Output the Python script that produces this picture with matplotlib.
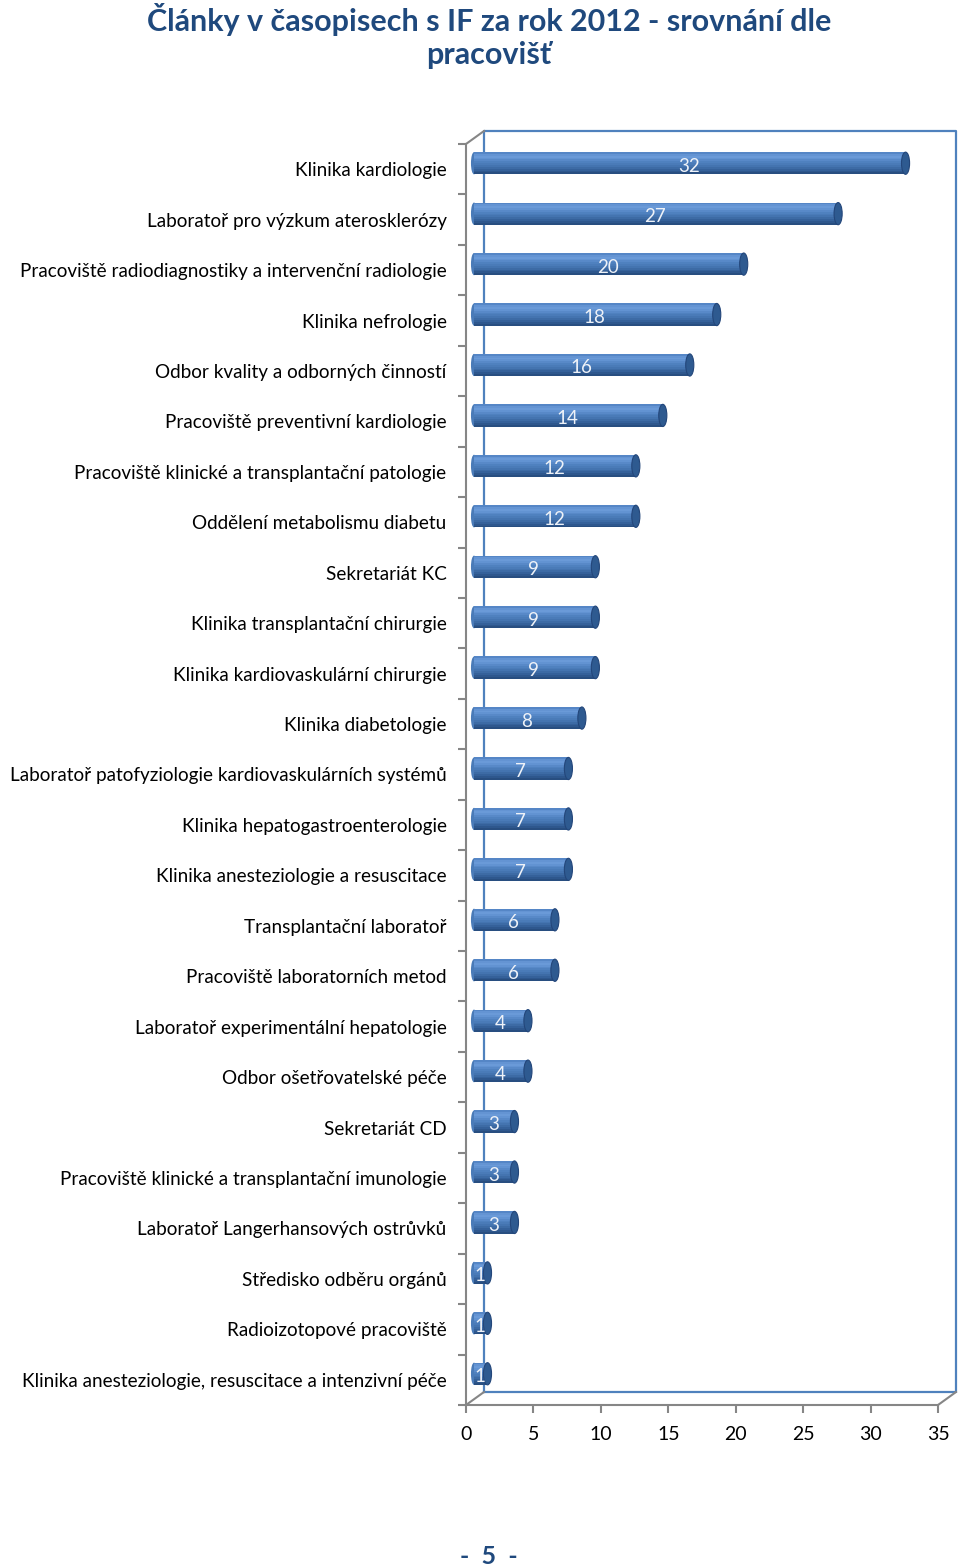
import matplotlib.pyplot as plt
from matplotlib.patches import Ellipse
from matplotlib.transforms import ScaledTranslation
from matplotlib.lines import Line2D

plt.rcParams['font.family'] = ['Lato', 'DejaVu Sans']

categories = [
    "Klinika kardiologie",
    "Laboratoř pro výzkum aterosklerózy",
    "Pracoviště radiodiagnostiky a intervenční radiologie",
    "Klinika nefrologie",
    "Odbor kvality a odborných činností",
    "Pracoviště preventivní kardiologie",
    "Pracoviště klinické a transplantační patologie",
    "Oddělení metabolismu diabetu",
    "Sekretariát KC",
    "Klinika transplantační chirurgie",
    "Klinika kardiovaskulární chirurgie",
    "Klinika diabetologie",
    "Laboratoř patofyziologie kardiovaskulárních systémů",
    "Klinika hepatogastroenterologie",
    "Klinika anesteziologie a resuscitace",
    "Transplantační laboratoř",
    "Pracoviště laboratorních metod",
    "Laboratoř experimentální hepatologie",
    "Odbor ošetřovatelské péče",
    "Sekretariát CD",
    "Pracoviště klinické a transplantační imunologie",
    "Laboratoř Langerhansových ostrůvků",
    "Středisko odběru orgánů",
    "Radioizotopové pracoviště",
    "Klinika anesteziologie, resuscitace a intenzivní péče",
]
values = [32, 27, 20, 18, 16, 14, 12, 12, 9, 9, 9, 8, 7, 7, 7, 6, 6, 4, 4, 3, 3, 3, 1, 1, 1]
xticks = [0, 5, 10, 15, 20, 25, 30, 35]

title_col = '#1F497D'
axis_col = '#868686'
wall_col = '#4F81BD'
# cylinder shading, top to bottom
shade = ['#5586C6', '#6494D3', '#6A9AD8', '#6293D2', '#5889C8', '#4F81BF',
         '#4A7BB8', '#4474B0', '#3D6BA5', '#35619A', '#2E578D', '#284E80']

fig = plt.figure(figsize=(9.6, 15.67), dpi=100)
ax = fig.add_axes([466/960, 1 - 1405/1567, (938-466)/960, (1405-144)/1567])
n = len(categories)
ypos = list(range(n))
ax.set_xlim(0, 35)
ax.set_ylim(n - 0.5, -0.5)

# back wall (offset into depth)
back = ax.transAxes + ScaledTranslation(18/100, 13/100, fig.dpi_scale_trans)
ax.add_line(Line2D([0, 1, 1, 0, 0], [0, 0, 1, 1, 0], transform=back, color=wall_col, lw=1.6, clip_on=False))
# depth edges
for (x0, y0) in [(0, 0), (0, 1), (1, 0)]:
    pts = ax.transAxes.transform((x0, y0))
    p2 = pts + [18, 13]
    fig.add_artist(Line2D([pts[0]/960, p2[0]/960], [pts[1]/1567, p2[1]/1567],
                          transform=fig.transFigure, color=axis_col, lw=1.5))

# cylinder bars, set half way into depth
mid = ax.transData + ScaledTranslation(8/100, 6/100, fig.dpi_scale_trans)
h = 0.44
k = len(shade)
for y, v in zip(ypos, values):
    ax.add_patch(Ellipse((0, y), 0.45, h, facecolor='#4A7BB8', edgecolor='none',
                         transform=mid, clip_on=False, zorder=2.9))
    for i, c in enumerate(shade):
        yc = y - h/2 + (i + 0.5) * h / k
        ax.barh(yc, v, height=h/k * 1.05, color=c, transform=mid, clip_on=False, zorder=3)
    ax.add_patch(Ellipse((v, y), 0.6, h, facecolor='#2E5A90', edgecolor='#23467A', lw=0.8,
                         transform=mid, clip_on=False, zorder=3.2))
    ax.text(v/2, y, str(v), transform=ax.transData + ScaledTranslation(7/100, 3/100, fig.dpi_scale_trans),
            ha='center', va='center', color='#EEF2F8', fontsize=13.5, zorder=4)

# axes styling
for s in ['top', 'right']:
    ax.spines[s].set_visible(False)
for s in ['left', 'bottom']:
    ax.spines[s].set_color(axis_col)
    ax.spines[s].set_linewidth(1.5)
ax.set_xticks(xticks)
ax.tick_params(axis='x', colors=axis_col, length=6, width=1.5, labelcolor='black', labelsize=14, pad=9)
ax.set_yticks([i - 0.5 for i in range(n + 1)])
ax.set_yticklabels([])
ax.tick_params(axis='y', which='major', colors=axis_col, length=6, width=1.5)
ax.set_yticks(ypos, minor=True)
ax.set_yticklabels(categories, minor=True)
ax.tick_params(axis='y', which='minor', length=0, labelsize=13.6, labelcolor='black', pad=14)
ax.patch.set_alpha(0)

fig.text(489/960, 1 - 36/1567, "Články v časopisech s IF za rok 2012 - srovnání dle\npracovišť",
         ha='center', va='center', fontsize=22, fontweight='bold', color=title_col, linespacing=1.25)
fig.text(489/960, 1 - 1556/1567, "-  5  -", ha='center', va='center', fontsize=18,
         fontweight='bold', color=title_col)

fig.savefig('out.png', dpi=100)
